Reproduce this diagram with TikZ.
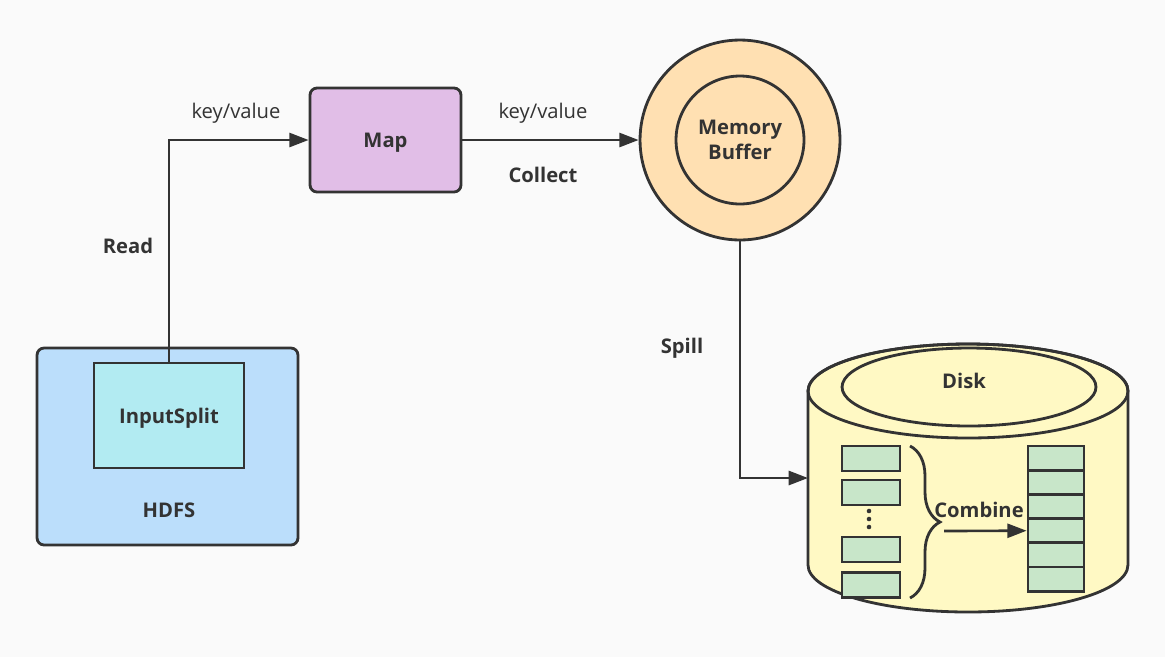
\documentclass[tikz,border=0pt]{standalone}
\usepackage{fontspec}
\setmainfont{Open Sans}
\usepackage{tikz}
\usetikzlibrary{positioning,arrows.meta,decorations.pathreplacing}
\definecolor{InkGray}{RGB}{51,51,51}
\definecolor{PageGray}{RGB}{250,250,250}
\definecolor{HdfsBlue}{RGB}{187,222,251}
\definecolor{SplitCyan}{RGB}{178,235,242}
\definecolor{MapLilac}{RGB}{225,190,231}
\definecolor{BufOrange}{RGB}{255,224,178}
\definecolor{DiskYellow}{RGB}{255,249,196}
\definecolor{CellGreen}{RGB}{200,230,201}
\tikzset{
  box/.style={draw=InkGray,line width=1.6pt,inner sep=0pt},
  rbox/.style={box,rounded corners=4pt},
  cell/.style={box,fill=CellGreen,minimum width=1.16cm,minimum height=0.5cm},
  flow/.style={draw=InkGray,line width=1.5pt,-{Triangle[length=11pt,width=8pt]}},
  lbl/.style={font=\fontsize{11.5}{14}\selectfont\bfseries,text=InkGray,align=center},
  tag/.style={font=\fontsize{11.5}{14}\selectfont,text=InkGray},
}
\begin{document}
\begin{tikzpicture}[x=0.02cm,y=-0.02cm]
\fill[PageGray] (0,0) rectangle (1165,657);
% input side
\node[rbox,fill=HdfsBlue,minimum width=5.22cm,minimum height=3.94cm](hdfs) at (167.5,446.5){};
\node[lbl](hdfslab) at (169,510){HDFS};
\node[box,fill=SplitCyan,minimum width=3cm,minimum height=2.1cm,lbl,text depth=-0.04cm](split) at (169,415.5){InputSplit};
\node[rbox,fill=MapLilac,minimum width=3.02cm,minimum height=2.08cm,lbl,text depth=0pt](map) at (385.5,140){Map};
\node[tag](kv1) at (236,113){key/value};\node[lbl](read) at (128,246){Read};
\draw[flow](split.north) |- (map.west);
% buffer
\node[circle,box,fill=BufOrange,minimum size=4cm](bufout) at (740,140){};
\node[circle,box,fill=BufOrange,minimum size=2.56cm,lbl,text depth=-0.12cm](bufin) at (740,140){Memory\\Buffer};
\node[tag](kv2) at (543,113){key/value};\node[lbl](collect) at (543,175){Collect};
\draw[flow](map.east) -- (bufout.west);
% disk
\filldraw[draw=InkGray,line width=1.6pt,fill=DiskYellow] (808,391) -- (808,565)
  arc[start angle=180,end angle=360,x radius=3.2cm,y radius=0.94cm] -- (1128,391)
  arc[start angle=0,end angle=180,x radius=3.2cm,y radius=0.94cm] -- cycle;
\draw[draw=InkGray,line width=1.6pt] (968,391) ellipse[x radius=3.2cm,y radius=0.94cm];
\draw[draw=InkGray,line width=1.6pt] (969,387) ellipse[x radius=2.54cm,y radius=0.78cm];
\node[lbl](disk) at (964,381){Disk};
\coordinate(diskin) at (808,478);
\node[lbl](spill) at (682,348){Spill};
\draw[flow](bufout.south) |- (diskin);
% spill files and merged file
\node[cell](s1) at (871,458.5){};\node[cell](s2) at (871,492.5){};
\node[cell](s3) at (871,549.5){};\node[cell](s4) at (871,585){};
\foreach \y in {511,519,527} \fill[InkGray] (869,\y) circle (1.3pt);
\draw[InkGray,line width=1.6pt,decorate,decoration={brace,amplitude=0.6cm}] (910,446) -- (910,598);
\foreach \i in {0,...,5} \node[box,fill=CellGreen,minimum width=1.12cm,minimum height=0.484cm](c\i) at (1056,458.1+\i*24.2){};
\node[lbl](combine) at (979,510){Combine};
\coordinate(merge) at (944,531);
\draw[flow](merge) -- (c3.west);
\end{tikzpicture}
\end{document}
